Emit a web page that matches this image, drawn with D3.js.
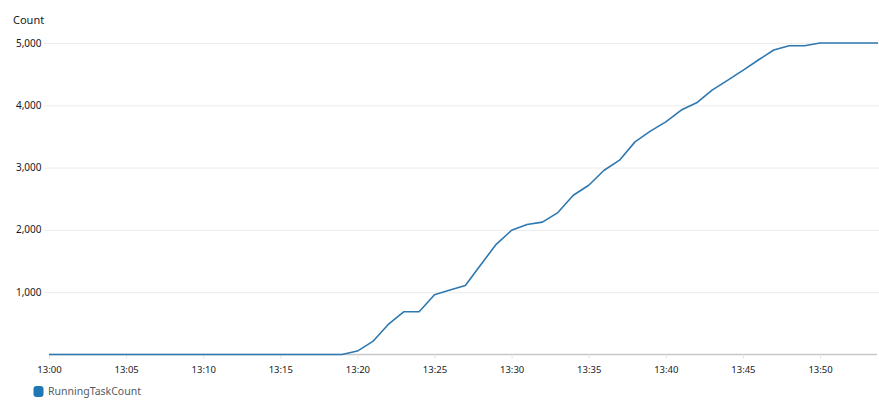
<!DOCTYPE html>
<html>
<head>
<meta charset="utf-8">
<script src="https://cdn.jsdelivr.net/npm/d3@7"></script>
<style>
  body { margin: 0; background: #fff; }
  svg { display: block; font-family: "Noto Sans", "Open Sans", sans-serif; }
  .grid line { stroke: #ebebeb; stroke-width: 1; }
</style>
</head>
<body>
<script>
// one sample per minute, 13:00 .. 13:54
var times = ["13:00","13:01","13:02","13:03","13:04","13:05","13:06","13:07","13:08","13:09",
  "13:10","13:11","13:12","13:13","13:14","13:15","13:16","13:17","13:18","13:19",
  "13:20","13:21","13:22","13:23","13:24","13:25","13:26","13:27","13:28","13:29",
  "13:30","13:31","13:32","13:33","13:34","13:35","13:36","13:37","13:38","13:39",
  "13:40","13:41","13:42","13:43","13:44","13:45","13:46","13:47","13:48","13:49",
  "13:50","13:51","13:52","13:53","13:54"];
var runningTaskCount = [0,0,0,0,0,0,0,0,0,0,
  0,0,0,0,0,0,0,0,0,0,
  55,210,482,686,686,960,1037,1109,1440,1768,
  1994,2088,2125,2278,2556,2717,2958,3119,3413,3585,
  3735,3923,4040,4244,4400,4560,4727,4887,4957,4957,
  5000,5000,5000,5000,5000];
var yTicks = [1000, 2000, 3000, 4000, 5000];
var seriesName = "RunningTaskCount";
var yTitle = "Count";

var width = 879, height = 406;
var parseTime = d3.timeParse("%H:%M");
var data = times.map(function(t, i){ return {t: parseTime(t), v: runningTaskCount[i]}; });

var svg = d3.select("body").append("svg")
    .attr("width", width)
    .attr("height", height);

var x = d3.scaleTime()
    .domain([parseTime("13:00"), parseTime("13:54")])
    .range([49, 881.7]);
var y = d3.scaleLinear()
    .domain([0, 5000])
    .range([354.5, 43]);

//clip so the line stops at the plot edge
svg.append("clipPath").attr("id", "plot")
  .append("rect").attr("x", 44).attr("y", 0).attr("width", 834).attr("height", 360);

//horizontal gridlines with labels
var yAxis = svg.append("g")
    .attr("class", "grid")
    .attr("transform", "translate(44,0)")
    .call(d3.axisRight(y).tickValues(yTicks).tickSize(835).tickFormat(""));
yAxis.select(".domain").remove();

svg.append("g").selectAll("text")
    .data(yTicks).enter().append("text")
    .attr("x", 41.5)
    .attr("y", function(d){ return y(d); })
    .attr("dy", "0.35em")
    .attr("text-anchor", "end")
    .attr("font-size", "10px")
    .attr("fill", "#16191f")
    .text(d3.format(","));

svg.append("text")
    .attr("x", 13)
    .attr("y", 20.5)
    .attr("dy", "0.35em")
    .attr("font-size", "11px")
    .attr("fill", "#16191f")
    .text(yTitle);

//bottom axis
var xAxis = svg.append("g")
    .attr("transform", "translate(0,354.5)")
    .call(d3.axisBottom(x)
      .ticks(d3.timeMinute.every(5))
      .tickSize(4)
      .tickPadding(8)
      .tickFormat(d3.timeFormat("%H:%M")));
xAxis.select(".domain")
    .attr("d", "M49,0H877")
    .attr("stroke", "#c8c8c8")
    .attr("stroke-width", 1.6);
xAxis.selectAll(".tick line").attr("stroke", "#e3e3e3");
xAxis.selectAll(".tick text")
    .attr("font-family", "'Noto Sans', 'Open Sans', sans-serif")
    .attr("font-size", "9.5px")
    .attr("fill", "#16191f");

//series line
var line = d3.line()
    .x(function(d){ return x(d.t); })
    .y(function(d){ return y(d.v); });

svg.append("path")
    .datum(data)
    .attr("clip-path", "url(#plot)")
    .attr("fill", "none")
    .attr("stroke", "#2e78b0")
    .attr("stroke-width", 1.6)
    .attr("stroke-linejoin", "round")
    .attr("d", line);

//legend
var legend = svg.append("g");
legend.append("rect")
    .attr("x", 33.5).attr("y", 386)
    .attr("width", 10).attr("height", 11)
    .attr("rx", 3)
    .attr("fill", "#1f77b4");
legend.append("text")
    .attr("x", 48)
    .attr("y", 391.5)
    .attr("dy", "0.35em")
    .attr("font-size", "10.5px")
    .attr("fill", "#545b64")
    .text(seriesName);
</script>
</body>
</html>
